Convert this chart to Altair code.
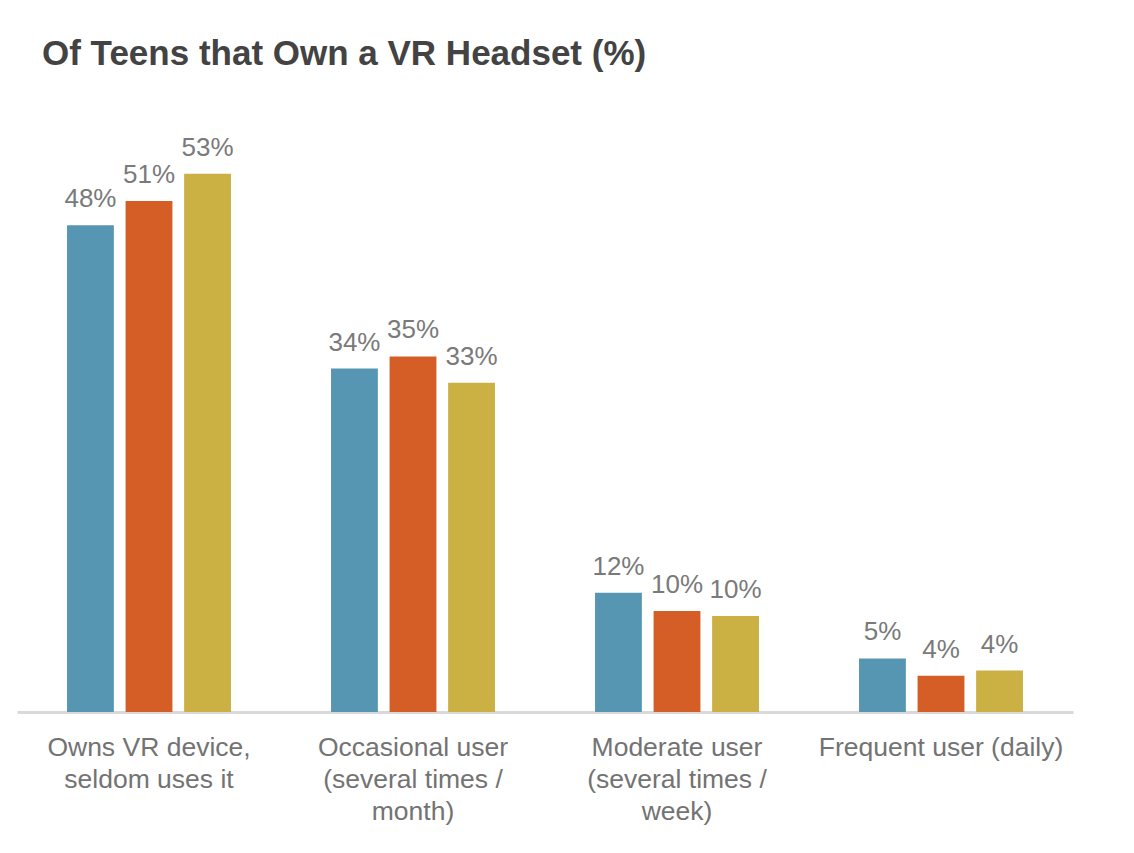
import altair as alt
import pandas as pd

categories = [
    "Owns VR device,|seldom uses it",
    "Occasional user|(several times /|month)",
    "Moderate user|(several times /|week)",
    "Frequent user (daily)",
]
series = ["Series 1", "Series 2", "Series 3"]
values = [
    [48.2, 50.6, 53.3],
    [34.0, 35.2, 32.6],
    [11.8, 10.0, 9.5],
    [5.3, 3.6, 4.1],
]
labels = [
    ["48%", "51%", "53%"],
    ["34%", "35%", "33%"],
    ["12%", "10%", "10%"],
    ["5%", "4%", "4%"],
]
colors = ["#5796B2", "#D55E26", "#CBB043"]

rows = []
for ci, cat in enumerate(categories):
    for si, s in enumerate(series):
        rows.append({"category": cat, "series": s, "value": values[ci][si], "label": labels[ci][si]})
df = pd.DataFrame(rows)

x = alt.X(
    "category:N",
    sort=categories,
    scale=alt.Scale(paddingInner=0.379, paddingOuter=0.1895),
    axis=alt.Axis(
        title=None,
        labelAngle=0,
        labelExpr="split(datum.label, '|')",
        labelFont="Liberation Sans",
        labelFontSize=26.5,
        labelColor="#737373",
        labelLineHeight=32,
        labelPadding=22,
        labelBaseline="top",
        labelLimit=400,
        ticks=False,
        domainColor="#D9D9D9",
        domainWidth=3,
    ),
)
xo = alt.XOffset("series:N", sort=series, scale=alt.Scale(paddingInner=0.2, paddingOuter=0))
y = alt.Y("value:Q", scale=alt.Scale(domain=[0, 60]), axis=None)

bars = alt.Chart(df).mark_bar().encode(
    x=x,
    xOffset=xo,
    y=y,
    color=alt.Color("series:N", sort=series, scale=alt.Scale(domain=series, range=colors), legend=None),
)

text = alt.Chart(df).mark_text(
    baseline="alphabetic", dy=-18, font="Liberation Sans", fontSize=26, color="#7A7A7A"
).encode(x=x, xOffset=xo, y=y, text="label:N")

chart = (
    alt.layer(bars, text)
    .properties(
        width=1056,
        height=606,
        title=alt.TitleParams(
            "Of Teens that Own a VR Headset (%)",
            anchor="start",
            font="Liberation Sans",
            fontSize=35,
            fontWeight="bold",
            color="#434343",
            dx=25,
            offset=6,
            baseline="alphabetic",
        ),
        autosize=alt.AutoSizeParams(type="none"),
        padding={"left": 9, "top": 98, "right": 50, "bottom": 130},
    )
    .configure_view(stroke=None)
)

chart.save("out.html", embed_options={"renderer": "svg", "actions": False})
